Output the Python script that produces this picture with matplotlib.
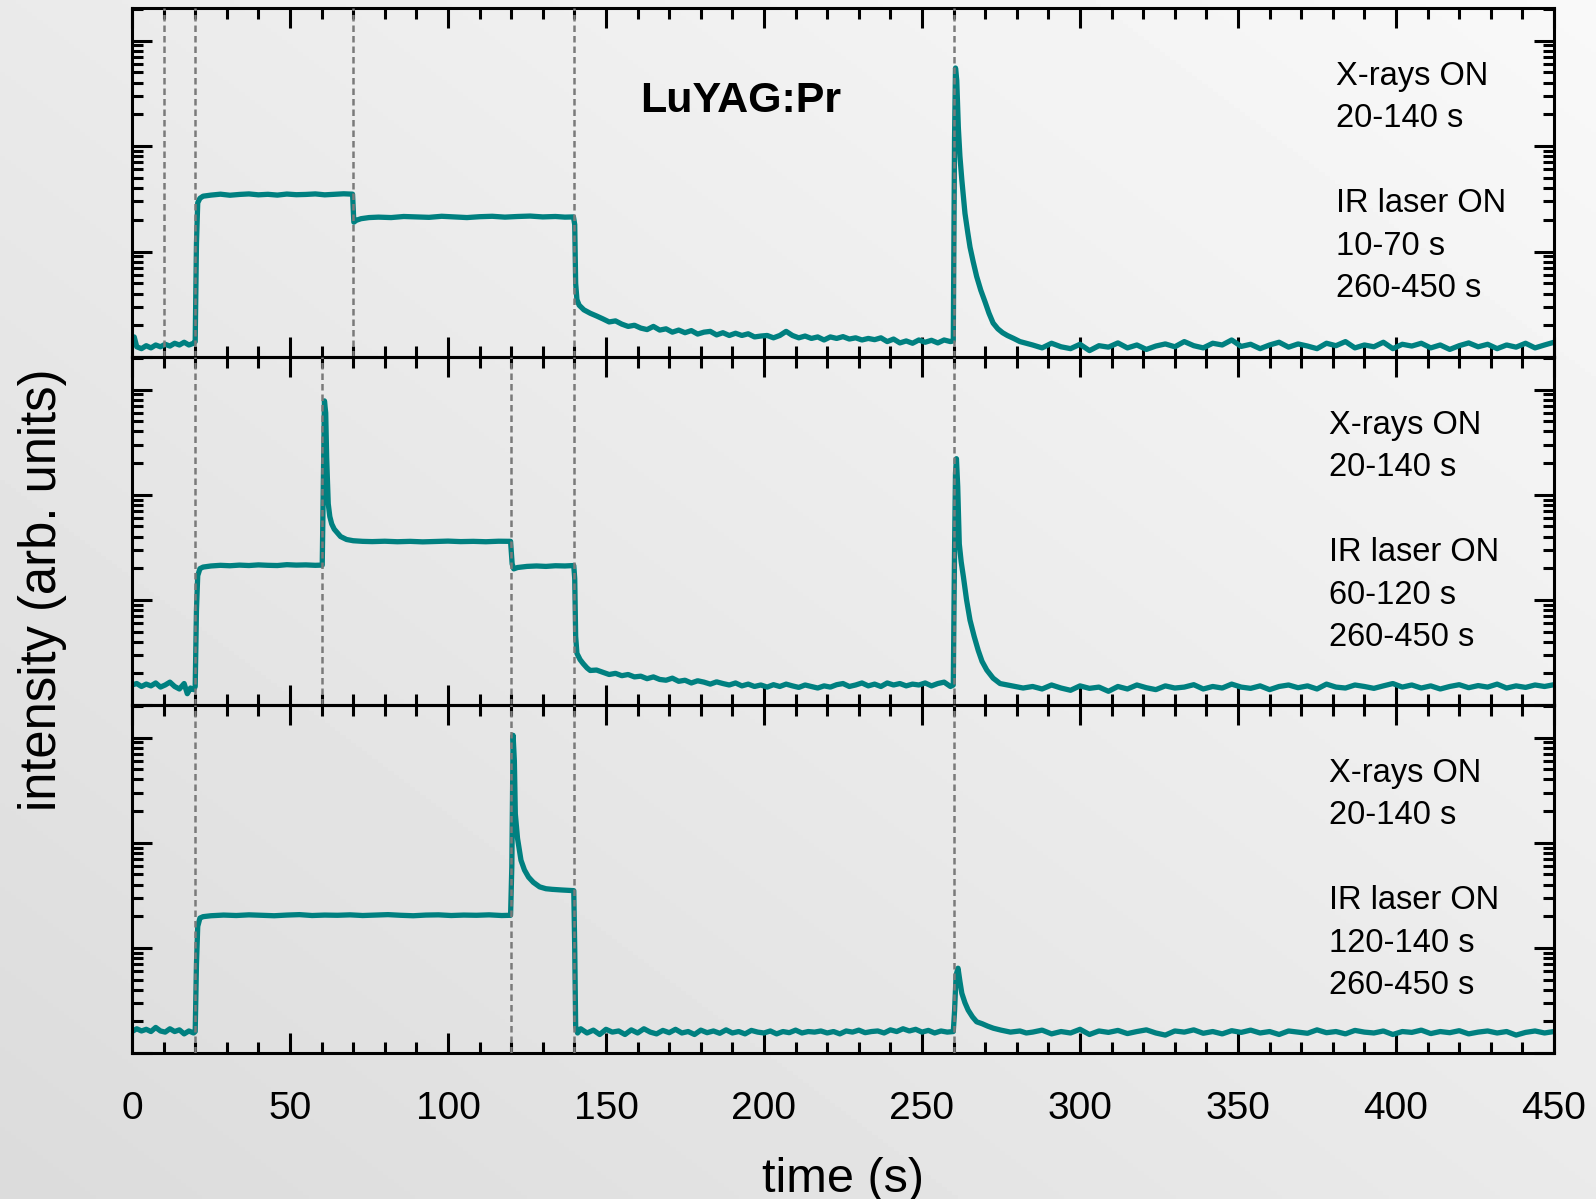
import numpy as np
import matplotlib.pyplot as plt
from matplotlib.ticker import MultipleLocator, LogLocator, NullFormatter

plt.rcParams['font.family'] = ['Liberation Sans', 'DejaVu Sans']

# values (log y axis, arbitrary units)
# shared time grid for the flat tail after the 260 s flash
tail_t = list(range(285, 451, 3))

# --- top panel: IR laser 10-70 s and 260-450 s
t_a = ([0, 0.7, 1.5, 3, 4.5, 6, 7.5, 9, 10.5, 12, 13.5, 15, 16.5, 18, 19.5]
       + [20.0, 20.4, 20.8, 21.5, 22.5, 25, 28, 31, 34, 37, 40, 43, 46, 49, 52, 55, 58, 61, 64, 67, 69.8]
       + [70.2, 71, 72.5, 75, 78, 82, 86, 90, 94, 98, 102, 106, 110, 114, 118, 122, 126, 130, 134, 137, 139.7]
       + [140.1, 140.4, 140.8, 141.5, 143, 145, 147, 149]
       + list(range(151, 260, 2))
       + [259.9, 260.3, 260.6, 261.0, 261.5, 262.0, 262.6, 263.6, 264.5, 265.2, 266.2,
          267.3, 268.6, 270, 271.2, 272.5, 274, 275.5, 277, 279, 281, 283])
i_a = ([1.3, 1.55, 1.25, 1.2, 1.28, 1.22, 1.3, 1.25, 1.32, 1.27, 1.35, 1.3, 1.38, 1.3, 1.35]
       + [1.4, 12, 29, 32, 33.5, 34.3, 35.0, 34.2, 34.8, 35.2, 34.5, 34.9, 34.3, 35.1, 34.6,
          34.8, 35.2, 34.5, 34.9, 35.3, 35.0]
       + [19, 19.8, 20.5, 21, 21.2, 21.0, 21.5, 21.3, 21.1, 21.6, 21.3, 21.0, 21.4, 21.6, 21.2,
          21.5, 21.7, 21.3, 21.5, 21.2, 21.3]
       + [18, 5, 3.5, 3.1, 2.8, 2.6, 2.45, 2.3]
       + [2.15, 2.2, 2.05, 1.95, 2.0, 1.88, 1.82, 1.95, 1.8, 1.85,
          1.72, 1.8, 1.7, 1.78, 1.65, 1.72, 1.75, 1.62, 1.7, 1.6,
          1.68, 1.6, 1.66, 1.55, 1.58, 1.6, 1.52, 1.6, 1.75, 1.6,
          1.52, 1.58, 1.5, 1.55, 1.45, 1.55, 1.5, 1.56, 1.48, 1.52,
          1.45, 1.5, 1.46, 1.52, 1.4, 1.48, 1.36, 1.42, 1.35, 1.45,
          1.38, 1.44, 1.36, 1.45, 1.4]
       + [1.42, 120, 550, 420, 150, 80, 48, 23, 15, 11, 8, 5.8, 4.3, 3.3, 2.6, 2.1,
          1.85, 1.7, 1.6, 1.5, 1.4, 1.35])
tail_a = [1.30, 1.22, 1.35, 1.25, 1.20, 1.32, 1.15, 1.28,
          1.24, 1.36, 1.22, 1.30, 1.18, 1.27, 1.33, 1.25,
          1.40, 1.28, 1.22, 1.35, 1.30, 1.45, 1.26, 1.32,
          1.20, 1.30, 1.38, 1.24, 1.33, 1.27, 1.20, 1.35,
          1.28, 1.40, 1.22, 1.30, 1.25, 1.38, 1.20, 1.32,
          1.27, 1.35, 1.22, 1.30, 1.18, 1.28, 1.36, 1.25,
          1.32, 1.20, 1.30, 1.24, 1.35, 1.22, 1.30, 1.38]

# --- middle panel: IR laser 60-120 s and 260-450 s
t_b = ([0, 1.5, 3, 4.5, 6, 7.5, 9, 10.5, 12, 13.5, 15, 16.5, 17.5, 18.5, 19.5]
       + [20.0, 20.4, 20.8, 21.5, 22.5, 25, 28, 31, 34, 37, 40, 43, 46, 49, 52, 55, 58, 60.2]
       + [60.5, 60.9, 61.3, 61.6, 62.1, 62.6, 63.2, 64, 64.8, 66, 67.9, 70, 73, 76, 80,
          84, 88, 92, 96, 100, 104, 108, 112, 116, 119.8]
       + [120.3, 120.8, 122, 125, 128, 131, 134, 137, 139.8]
       + [140.1, 140.4, 140.8, 141.8, 142.8, 144, 145, 147, 149]
       + list(range(151, 260, 2))
       + [259.9, 260.3, 260.6, 260.9, 261.3, 261.8, 262.4, 263.1, 264.1, 265.2,
          266.5, 267.8, 269, 270.5, 272.5, 274.7, 277, 280, 282])
i_b = ([1.55, 1.6, 1.5, 1.58, 1.52, 1.62, 1.48, 1.55, 1.65, 1.5, 1.42, 1.6, 1.28, 1.45, 1.4]
       + [1.5, 8, 17, 19.8, 20.5, 21.0, 21.3, 21.1, 21.4, 21.2, 21.5, 21.3, 21.2, 21.6,
          21.4, 21.5, 21.3, 21.4]
       + [100, 780, 600, 226, 82, 62, 52.7, 47, 44, 40, 37.5, 36.5, 36, 35.8, 36.1,
          35.7, 36.0, 35.6, 35.9, 36.2, 35.8, 36.0, 35.7, 36.1, 36.0]
       + [22, 19.7, 20.3, 20.8, 21.0, 20.8, 21.1, 21.0, 21.2]
       + [16, 4.5, 3.1, 2.7, 2.47, 2.25, 2.13, 2.15, 2.05]
       + [1.95, 2.0, 1.9, 1.95, 1.85, 1.88, 1.78, 1.85, 1.75, 1.72,
          1.8, 1.68, 1.72, 1.62, 1.7, 1.65, 1.58, 1.66, 1.6, 1.55,
          1.62, 1.52, 1.58, 1.5, 1.55, 1.48, 1.56, 1.5, 1.58, 1.52,
          1.47, 1.55, 1.5, 1.45, 1.52, 1.48, 1.56, 1.6, 1.5, 1.55,
          1.62, 1.52, 1.58, 1.5, 1.62, 1.55, 1.6, 1.52, 1.58, 1.55,
          1.62, 1.52, 1.6, 1.65, 1.5]
       + [1.55, 30, 160, 220, 120, 34, 23, 16.6, 10, 6.4, 4.5, 3.3, 2.6, 2.15, 1.8,
          1.6, 1.55, 1.49, 1.45])
tail_b = [1.50, 1.42, 1.55, 1.45, 1.38, 1.52, 1.44, 1.48,
          1.35, 1.50, 1.42, 1.55, 1.46, 1.40, 1.52, 1.45,
          1.48, 1.56, 1.42, 1.50, 1.45, 1.58, 1.48, 1.44,
          1.52, 1.40, 1.50, 1.55, 1.46, 1.52, 1.42, 1.58,
          1.48, 1.45, 1.55, 1.50, 1.44, 1.52, 1.60, 1.48,
          1.55, 1.45, 1.52, 1.42, 1.50, 1.56, 1.46, 1.53,
          1.48, 1.58, 1.45, 1.52, 1.47, 1.55, 1.50, 1.56]

# --- bottom panel: IR laser 120-140 s and 260-450 s
t_c = ([0, 1.5, 3, 4.5, 6, 7.5, 9, 10.5, 12, 13.5, 15, 16.5, 18, 19.5]
       + [20.0, 20.4, 20.8, 21.5, 22.5] + list(range(25, 118, 4)) + [119.8]
       + [120.2, 120.6, 121.0, 121.3, 122.0, 123.1, 124.2, 125.5, 127, 129, 131, 133, 136, 139.8]
       + [140.1, 140.4, 141]
       + list(range(142, 259, 2))
       + [259.9, 260.3, 260.8, 261.4, 262.0, 262.6, 263.6, 264.6, 266, 267.3, 269,
          270.8, 272.6, 275, 278, 281, 283])
i_c = ([1.6, 1.7, 1.62, 1.68, 1.6, 1.75, 1.62, 1.58, 1.7, 1.6, 1.66, 1.52, 1.62, 1.55]
       + [1.6, 7, 16, 19.2, 19.8]
       + [20.2, 20.5, 20.3, 20.6, 20.4, 20.2, 20.5, 20.7,
          20.3, 20.5, 20.4, 20.6, 20.3, 20.5, 20.7, 20.4,
          20.2, 20.5, 20.6, 20.3, 20.5, 20.4, 20.6, 20.3] + [20.4]
       + [60, 1050, 600, 189, 110, 68, 55, 47, 42, 38, 36.5, 36, 35.5, 35]
       + [10, 1.8, 1.55]
       + [1.7, 1.55, 1.65, 1.5, 1.68, 1.58, 1.62, 1.5, 1.66, 1.55,
          1.7, 1.58, 1.52, 1.64, 1.56, 1.68, 1.55, 1.6, 1.5, 1.65,
          1.56, 1.62, 1.54, 1.66, 1.55, 1.6, 1.52, 1.64, 1.58, 1.55,
          1.62, 1.52, 1.6, 1.56, 1.65, 1.55, 1.6, 1.58, 1.62, 1.55,
          1.6, 1.52, 1.62, 1.58, 1.65, 1.56, 1.6, 1.62, 1.55, 1.66,
          1.6, 1.7, 1.62, 1.68, 1.58, 1.64, 1.55, 1.62, 1.58]
       + [1.6, 2.5, 5.5, 6.4, 4.8, 3.7, 3.0, 2.56, 2.2, 1.98, 1.9, 1.8, 1.72, 1.65,
          1.58, 1.62, 1.55])
tail_c = [1.58, 1.65, 1.52, 1.60, 1.55, 1.68, 1.50, 1.62,
          1.57, 1.64, 1.53, 1.60, 1.66, 1.55, 1.48, 1.62,
          1.58, 1.66, 1.54, 1.60, 1.52, 1.63, 1.57, 1.65,
          1.55, 1.60, 1.50, 1.62, 1.58, 1.54, 1.66, 1.56,
          1.60, 1.52, 1.64, 1.58, 1.55, 1.62, 1.50, 1.60,
          1.57, 1.65, 1.53, 1.60, 1.56, 1.63, 1.52, 1.58,
          1.62, 1.55, 1.60, 1.48, 1.57, 1.62, 1.55, 1.60]

# switching times (dashed lines)
switch_a = [10, 20, 70, 140, 260]
switch_b = [20, 60, 120, 140, 260]
switch_c = [20, 120, 140, 260]

notes_a = ['X-rays ON', '20-140 s', '', 'IR laser ON', '10-70 s', '260-450 s']
notes_b = ['X-rays ON', '20-140 s', '', 'IR laser ON', '60-120 s', '260-450 s']
notes_c = ['X-rays ON', '20-140 s', '', 'IR laser ON', '120-140 s', '260-450 s']

panels = [
    (t_a + tail_t, i_a + tail_a, switch_a, notes_a, 0.8467),
    (t_b + tail_t, i_b + tail_b, switch_b, notes_b, 0.8418),
    (t_c + tail_t, i_c + tail_c, switch_c, notes_c, 0.8418),
]

W, H = 1596, 1199
fig = plt.figure(figsize=(W / 100, H / 100), dpi=100)

# grey gradient background
bg = fig.add_axes([0, 0, 1, 1], zorder=-10)
gx, gy = np.meshgrid(np.linspace(0, 1, 300), np.linspace(0, 1, 300))
bg.imshow(0.86 + 0.115 * (gx + gy) / 2, cmap='gray', vmin=0, vmax=1,
          origin='lower', extent=[0, 1, 0, 1], aspect='auto')
bg.axis('off')

left, width = 132 / W, 1422 / W
edges = [8, 357, 705, 1053]
panel_h = 348.5

for k, (t, y, switches, notes, tx) in enumerate(panels):
    top, bot = edges[k], edges[k + 1]
    ax = fig.add_axes([left, 1 - bot / H, width, (bot - top) / H])
    ax.set_facecolor('none')
    ax.set_yscale('log')
    ax.set_xlim(0, 450)
    ax.set_ylim(1, 10 ** (panel_h / 105.3))

    for s in switches:
        ax.axvline(s, color='#7a7a7a', lw=1.8, ls=(0, (2.6, 1.6)), zorder=3)
    ax.plot(t, y, color='#008080', lw=3.8, zorder=2,
            solid_joinstyle='round', solid_capstyle='round')

    ax.xaxis.set_major_locator(MultipleLocator(50))
    ax.xaxis.set_minor_locator(MultipleLocator(10))
    ax.yaxis.set_major_locator(LogLocator(base=10))
    ax.yaxis.set_minor_locator(LogLocator(base=10, subs=np.arange(2, 10)))
    ax.yaxis.set_major_formatter(NullFormatter())
    ax.yaxis.set_minor_formatter(NullFormatter())
    ax.tick_params(which='both', direction='in', top=True, right=True,
                   width=2.2, labelsize=28, pad=27.5,
                   labelbottom=(k == 2), labelleft=False)
    ax.tick_params(which='major', length=14.5)
    ax.tick_params(which='minor', length=8)
    for sp in ax.spines.values():
        sp.set_linewidth(2.2)

    for j, line in enumerate(notes):
        if line:
            ax.text(tx, 1 - (77 + 42.4 * j) / (bot - top), line, transform=ax.transAxes,
                    fontsize=23.5, va='baseline', ha='left')

    if k == 0:
        ax.text((741 - 132) / 1422, 1 - 104 / (bot - top), 'LuYAG:Pr', transform=ax.transAxes,
                fontsize=31, fontweight='bold', ha='center', va='baseline')

fig.text(843 / W, 1 - 1179 / H, 'time (s)', fontsize=35, ha='center', va='center')
fig.text(43 / W, 1 - 590 / H, 'intensity (arb. units)', fontsize=36.5, rotation=90,
         ha='center', va='center')

fig.savefig('out.png', dpi=100)
